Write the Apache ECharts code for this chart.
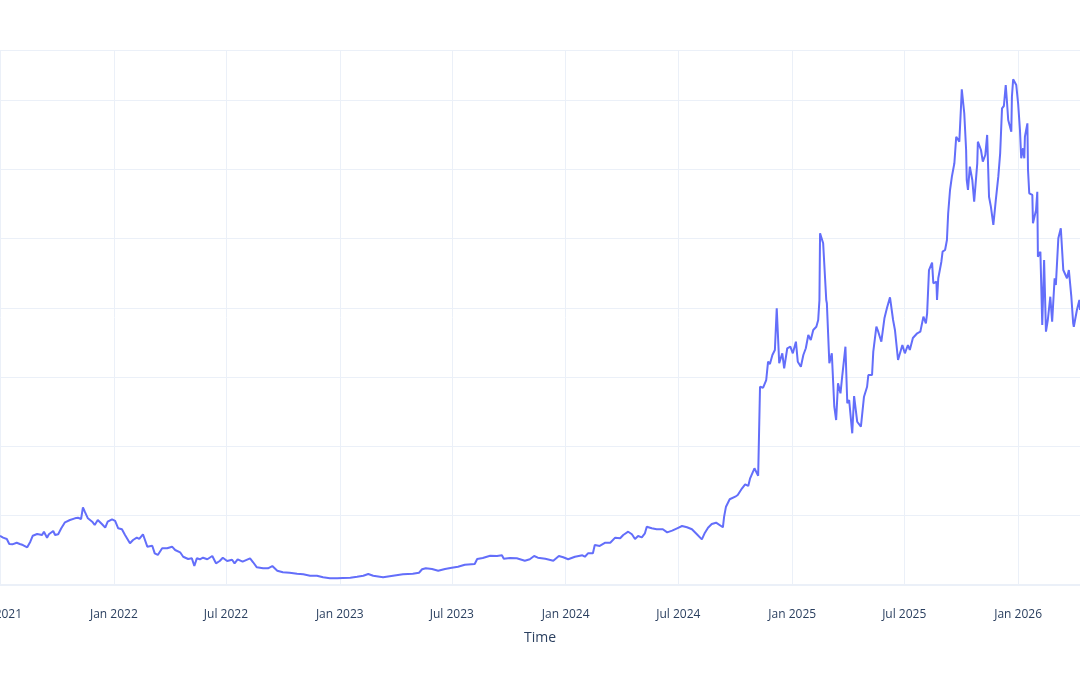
<!DOCTYPE html>
<html>
<head>
<meta charset="utf-8">
<title>Time series</title>
<script src="https://cdn.jsdelivr.net/npm/echarts@6/dist/echarts.min.js"></script>
<style>
  html, body { margin: 0; padding: 0; background: #fff; }
  #chart { width: 1080px; height: 675px; }
</style>
</head>
<body>
<div id="chart"></div>
<script>
// x range shown in the picture (the plot runs past both edges)
const xMin = '2021-07-01'
const xMax = '2026-04-11'
const tickDates = [
  '2021-07-01', '2022-01-01', '2022-07-01', '2023-01-01', '2023-07-01',
  '2024-01-01', '2024-07-01', '2025-01-01', '2025-07-01', '2026-01-01'
]
const monthNames = ['Jan', 'Feb', 'Mar', 'Apr', 'May', 'Jun', 'Jul', 'Aug', 'Sep', 'Oct', 'Nov', 'Dec']

// values
const dates = [
  '2021-07-01', '2021-07-06', '2021-07-12', '2021-07-16', '2021-07-21', '2021-07-28', '2021-08-02', '2021-08-07',
  '2021-08-14', '2021-08-19', '2021-08-23', '2021-08-30', '2021-09-02', '2021-09-07', '2021-09-10', '2021-09-15',
  '2021-09-18', '2021-09-25', '2021-09-28', '2021-10-03', '2021-10-08', '2021-10-14', '2021-10-22', '2021-10-30',
  '2021-11-04', '2021-11-09', '2021-11-12', '2021-11-15', '2021-11-20', '2021-11-27', '2021-12-01', '2021-12-06',
  '2021-12-13', '2021-12-18', '2021-12-22', '2021-12-29', '2022-01-03', '2022-01-08', '2022-01-14', '2022-01-19',
  '2022-01-27', '2022-02-01', '2022-02-07', '2022-02-11', '2022-02-17', '2022-02-24', '2022-03-04', '2022-03-08',
  '2022-03-13', '2022-03-20', '2022-03-28', '2022-04-05', '2022-04-10', '2022-04-18', '2022-04-23', '2022-05-01',
  '2022-05-07', '2022-05-11', '2022-05-15', '2022-05-20', '2022-05-25', '2022-06-01', '2022-06-09', '2022-06-15',
  '2022-06-21', '2022-06-26', '2022-07-03', '2022-07-11', '2022-07-15', '2022-07-20', '2022-07-28', '2022-08-09',
  '2022-08-14', '2022-08-20', '2022-08-30', '2022-09-07', '2022-09-14', '2022-09-22', '2022-10-01', '2022-10-12',
  '2022-10-24', '2022-11-03', '2022-11-14', '2022-11-25', '2022-12-05', '2022-12-16', '2022-12-28', '2023-01-06',
  '2023-01-18', '2023-01-29', '2023-02-08', '2023-02-16', '2023-02-24', '2023-03-12', '2023-03-28', '2023-04-13',
  '2023-04-29', '2023-05-09', '2023-05-14', '2023-05-20', '2023-05-30', '2023-06-09', '2023-06-20', '2023-07-01',
  '2023-07-11', '2023-07-22', '2023-08-07', '2023-08-11', '2023-08-20', '2023-09-01', '2023-09-12', '2023-09-20',
  '2023-09-23', '2023-10-03', '2023-10-14', '2023-10-27', '2023-11-04', '2023-11-11', '2023-11-17', '2023-11-29',
  '2023-12-12', '2023-12-21', '2023-12-28', '2024-01-05', '2024-01-16', '2024-01-28', '2024-02-01', '2024-02-06',
  '2024-02-14', '2024-02-17', '2024-02-25', '2024-03-05', '2024-03-13', '2024-03-21', '2024-03-29', '2024-04-03',
  '2024-04-11', '2024-04-17', '2024-04-22', '2024-04-27', '2024-05-03', '2024-05-08', '2024-05-11', '2024-05-19',
  '2024-05-27', '2024-06-06', '2024-06-13', '2024-06-21', '2024-06-29', '2024-07-07', '2024-07-15', '2024-07-23',
  '2024-07-31', '2024-08-08', '2024-08-13', '2024-08-18', '2024-08-24', '2024-08-31', '2024-09-03', '2024-09-11',
  '2024-09-13', '2024-09-16', '2024-09-22', '2024-10-01', '2024-10-05', '2024-10-12', '2024-10-17', '2024-10-22',
  '2024-10-25', '2024-11-01', '2024-11-05', '2024-11-07', '2024-11-10', '2024-11-15', '2024-11-20', '2024-11-23',
  '2024-11-26', '2024-11-30', '2024-12-04', '2024-12-07', '2024-12-11', '2024-12-16', '2024-12-19', '2024-12-24',
  '2024-12-29', '2025-01-02', '2025-01-07', '2025-01-10', '2025-01-15', '2025-01-19', '2025-01-23', '2025-01-27',
  '2025-01-31', '2025-02-04', '2025-02-09', '2025-02-12', '2025-02-14', '2025-02-15', '2025-02-20', '2025-02-25',
  '2025-02-26', '2025-03-02', '2025-03-06', '2025-03-10', '2025-03-13', '2025-03-16', '2025-03-20', '2025-03-23',
  '2025-03-28', '2025-03-31', '2025-04-03', '2025-04-08', '2025-04-11', '2025-04-16', '2025-04-22', '2025-04-27',
  '2025-05-02', '2025-05-04', '2025-05-10', '2025-05-12', '2025-05-17', '2025-05-20', '2025-05-25', '2025-05-30',
  '2025-06-03', '2025-06-08', '2025-06-13', '2025-06-16', '2025-06-21', '2025-06-28', '2025-07-02', '2025-07-07',
  '2025-07-10', '2025-07-15', '2025-07-22', '2025-07-27', '2025-08-01', '2025-08-05', '2025-08-07', '2025-08-10',
  '2025-08-15', '2025-08-17', '2025-08-22', '2025-08-23', '2025-08-25', '2025-08-30', '2025-09-01', '2025-09-05',
  '2025-09-08', '2025-09-10', '2025-09-13', '2025-09-16', '2025-09-20', '2025-09-23', '2025-09-26', '2025-09-28',
  '2025-10-01', '2025-10-02', '2025-10-06', '2025-10-09', '2025-10-10', '2025-10-12', '2025-10-15', '2025-10-19',
  '2025-10-22', '2025-10-27', '2025-10-28', '2025-11-02', '2025-11-05', '2025-11-09', '2025-11-12', '2025-11-15',
  '2025-11-18', '2025-11-22', '2025-11-26', '2025-11-30', '2025-12-03', '2025-12-06', '2025-12-09', '2025-12-12',
  '2025-12-14', '2025-12-16', '2025-12-17', '2025-12-21', '2025-12-22', '2025-12-24', '2025-12-29', '2026-01-01',
  '2026-01-04', '2026-01-06', '2026-01-09', '2026-01-11', '2026-01-12', '2026-01-16', '2026-01-17', '2026-01-19',
  '2026-01-24', '2026-01-25', '2026-01-30', '2026-02-01', '2026-02-02', '2026-02-06', '2026-02-09', '2026-02-12',
  '2026-02-15', '2026-02-18', '2026-02-22', '2026-02-25', '2026-03-01', '2026-03-03', '2026-03-07', '2026-03-11',
  '2026-03-15', '2026-03-18', '2026-03-21', '2026-03-24', '2026-03-28', '2026-03-31', '2026-04-01', '2026-04-06',
  '2026-04-10', '2026-04-11'
]

const values = [
  7.11, 6.83, 6.64, 5.92, 5.87, 6.10, 5.92, 5.77,
  5.44, 6.25, 7.11, 7.36, 7.60, 7.22, 7.69, 6.83,
  7.32, 7.79, 7.22, 7.32, 8.18, 9.05, 9.38, 9.62,
  9.71, 9.52, 11.21, 10.58, 9.62, 9.13, 8.66, 9.38,
  8.76, 8.27, 9.13, 9.48, 9.24, 8.18, 8.04, 7.22,
  6.02, 6.49, 6.83, 6.64, 7.32, 5.53, 5.67, 4.57,
  4.33, 5.30, 5.30, 5.53, 5.05, 4.72, 4.08, 3.75,
  3.85, 2.74, 3.85, 3.71, 3.94, 3.71, 4.18, 3.13,
  3.46, 3.94, 3.46, 3.65, 3.13, 3.71, 3.36, 3.85,
  3.28, 2.55, 2.41, 2.41, 2.74, 2.06, 1.83, 1.77,
  1.63, 1.54, 1.34, 1.34, 1.11, 0.97, 0.97, 1.01,
  1.05, 1.20, 1.34, 1.59, 1.34, 1.11, 1.34, 1.54,
  1.63, 1.77, 2.27, 2.41, 2.31, 2.06, 2.31, 2.50,
  2.64, 2.93, 3.03, 3.75, 3.90, 4.23, 4.18, 4.29,
  3.80, 3.90, 3.85, 3.51, 3.71, 4.18, 3.94, 3.80,
  3.51, 4.18, 4.00, 3.71, 4.08, 4.29, 4.08, 4.57,
  4.57, 5.77, 5.63, 6.10, 6.10, 6.83, 6.74, 7.22,
  7.69, 7.32, 6.64, 7.07, 6.88, 7.46, 8.41, 8.18,
  8.04, 8.04, 7.60, 7.84, 8.18, 8.51, 8.33, 8.04,
  7.32, 6.59, 7.55, 8.27, 8.80, 8.99, 8.90, 8.33,
  9.86, 11.30, 12.37, 12.74, 12.99, 13.95, 14.53, 14.29,
  15.40, 16.84, 16.12, 15.77, 28.61, 28.47, 29.58, 32.22,
  31.89, 33.19, 33.91, 39.93, 31.99, 33.43, 31.27, 34.16,
  34.39, 33.43, 35.11, 32.22, 31.50, 33.19, 34.16, 36.08,
  35.35, 36.80, 37.27, 38.24, 41.13, 50.75, 49.31, 41.13,
  40.65, 31.99, 33.43, 25.73, 23.81, 29.11, 27.66, 30.30,
  34.39, 26.22, 26.70, 21.89, 27.27, 23.56, 22.84, 27.17,
  28.61, 30.30, 30.30, 33.67, 37.27, 36.55, 35.11, 38.48,
  39.93, 41.51, 38.24, 36.80, 32.47, 34.63, 33.43, 34.63,
  33.91, 35.64, 36.32, 36.55, 38.72, 37.76, 39.21, 45.45,
  46.51, 43.54, 43.77, 41.13, 44.26, 46.65, 48.10, 48.34,
  49.78, 53.64, 57.00, 58.92, 60.85, 64.69, 64.46, 63.97,
  69.51, 71.53, 68.07, 62.77, 58.44, 57.00, 60.36, 58.44,
  55.31, 60.85, 63.97, 62.77, 61.08, 62.05, 64.94, 56.03,
  54.59, 51.95, 55.56, 58.92, 62.29, 68.79, 69.12, 72.15,
  69.74, 67.10, 67.20, 65.41, 70.46, 72.97, 72.15, 69.51,
  65.66, 61.57, 63.02, 61.57, 64.69, 66.62, 59.88, 56.52,
  56.28, 52.19, 54.11, 56.75, 47.37, 48.10, 37.52, 46.90,
  36.55, 38.24, 41.60, 37.99, 44.26, 43.29, 50.03, 51.47,
  45.45, 45.21, 44.26, 45.45, 41.60, 37.76, 37.27, 39.68,
  41.13, 39.68
]

// dates as UTC millisecond timestamps on a numeric axis
const toTime = (s) => Date.parse(s + 'T00:00:00Z')

const chart = echarts.init(document.getElementById('chart'))

chart.setOption({
  animation: false,
  textStyle: { fontFamily: '"Open Sans", Verdana, Arial, sans-serif' },
  grid: {
    left: 0,
    right: 0,
    top: 50,
    bottom: 90,
    containLabel: false,
    outerBoundsMode: 'none',
  },
  xAxis: {
    type: 'value',
    min: toTime(xMin),
    max: toTime(xMax),
    name: 'Time',
    nameLocation: 'middle',
    nameGap: 46,
    nameTextStyle: { color: '#2a3f5f', fontSize: 14 },
    axisLine: { show: true, lineStyle: { color: '#ebf0f8', width: 2 } },
    axisTick: { show: false, customValues: tickDates.map(toTime) },
    axisLabel: {
      color: '#2a3f5f',
      fontSize: 12,
      margin: 24,
      hideOverlap: false,
      customValues: tickDates.map(toTime),
      formatter: (val) => {
        const d = new Date(val)
        return monthNames[d.getUTCMonth()] + ' ' + d.getUTCFullYear()
      },
    },
    splitLine: { show: true, lineStyle: { color: '#ebf0f8', width: 1 } },
  },
  yAxis: {
    type: 'value',
    min: 0,
    max: 77.2,
    interval: 10,
    axisLine: { show: false },
    axisTick: { show: false },
    axisLabel: { show: false },
    splitLine: { show: true, lineStyle: { color: '#ebf0f8', width: 1 } },
  },
  series: [
    {
      type: 'line',
      data: dates.map((d, i) => [toTime(d), values[i]]),
      showSymbol: false,
      smooth: false,
      lineStyle: { color: '#636efa', width: 2 },
      itemStyle: { color: '#636efa' },
    },
  ],
})
</script>
</body>
</html>
